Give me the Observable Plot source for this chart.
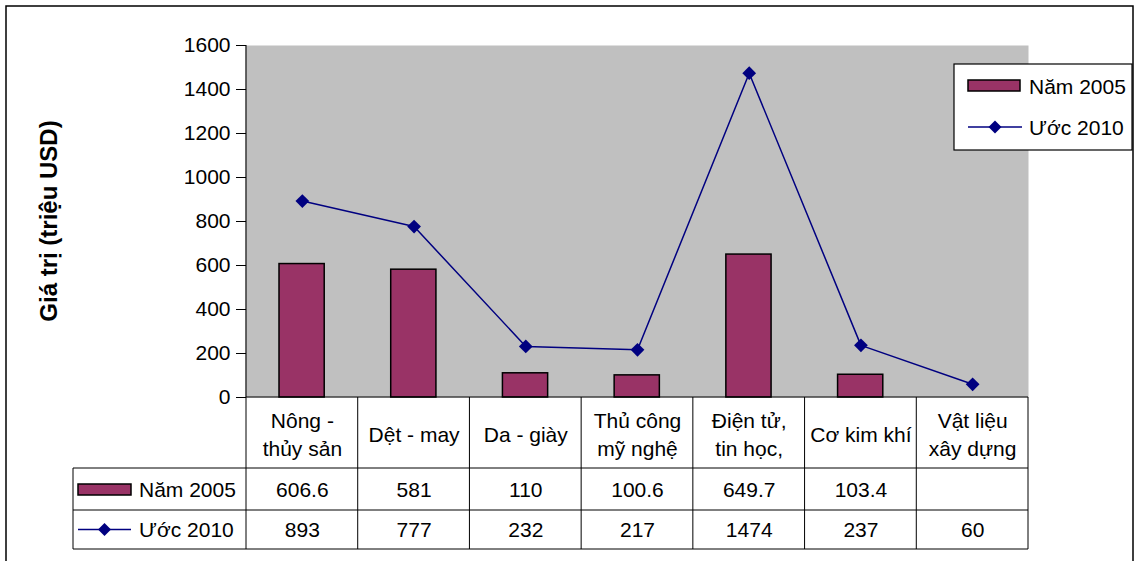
<!DOCTYPE html>
<html>
<head>
<meta charset="utf-8">
<script src="https://cdn.jsdelivr.net/npm/d3@7"></script>
<script src="https://cdn.jsdelivr.net/npm/@observablehq/plot@0.6"></script>
<style>
  body { margin: 0; background: #fff; }
  svg { display: block; }
</style>
</head>
<body>
<div id="chart"></div>
<script>
// Export groups (header lines separated by \n)
const categories = ["Nông -\nthủy sản", "Dệt - may", "Da - giày", "Thủ công\nmỹ nghệ", "Điện tử,\ntin học,", "Cơ kim khí", "Vật liệu\nxây dựng"];
// Export value, million USD
const values2005 = [606.6, 581, 110, 100.6, 649.7, 103.4, null];
const values2010 = [893, 777, 232, 217, 1474, 237, 60];
const seriesNames = ["Năm 2005", "Ước 2010"];
const yTicks = [0, 200, 400, 600, 800, 1000, 1200, 1400, 1600];
const yTitle = "Giá trị (triệu USD)";

const barColor = "#993366";
const lineColor = "#000080";
const font = "Arial, 'Liberation Sans', sans-serif";
const fs = 21;

const rows = categories.map((c, i) => ({cat: c, v2005: values2005[i], v2010: values2010[i]}));
const fmt = v => (v == null ? "" : String(v));

// Diamond marker path (rotated square, half-diagonal s)
const diamond = (cx, cy, s) => `M${cx},${cy - s}L${cx + s},${cy}L${cx},${cy + s}L${cx - s},${cy}Z`;

// Data table under the plot, axis lines, legend, title and outer frame
function tableAndLegend(index, scales, values, dimensions) {
  const {width, marginLeft, marginRight} = dimensions;
  const left = marginLeft, right = width - marginRight;
  const y0 = scales.y(0), yTop = scales.y(yTicks[yTicks.length - 1]);
  const step = (right - left) / categories.length;
  const headerBottom = y0 + 71, row2Bottom = y0 + 113, tableBottom = y0 + 152;
  const tableLeft = 73;
  const g = d3.create("svg:g").attr("font-family", font).attr("text-anchor", "start");

  const line = (x1, y1, x2, y2, w = 1) => g.append("line")
    .attr("x1", x1).attr("y1", y1).attr("x2", x2).attr("y2", y2)
    .attr("stroke", "#000").attr("stroke-width", w);

  // axes
  line(left, yTop, left, y0, 1.2);
  line(left, y0, right, y0, 1.2);
  // table grid
  [headerBottom, row2Bottom, tableBottom].forEach(y => line(tableLeft, y, right, y));
  for (let i = 0; i <= categories.length; ++i) line(left + i * step, y0, left + i * step, tableBottom);
  line(tableLeft, headerBottom, tableLeft, tableBottom);

  // series keys inside the table
  const r2 = (headerBottom + row2Bottom) / 2, r3 = (row2Bottom + tableBottom) / 2;
  g.append("rect").attr("x", tableLeft + 5).attr("y", r2 - 5).attr("width", 53).attr("height", 11)
    .attr("fill", barColor).attr("stroke", "#000").attr("stroke-width", 1.5);
  line(tableLeft + 5, r3, tableLeft + 58, r3, 1.5).attr("stroke", lineColor);
  g.append("path").attr("d", diamond(tableLeft + 31.5, r3, 6.5)).attr("fill", lineColor);
  [[seriesNames[0], r2], [seriesNames[1], r3]].forEach(([t, y]) =>
    g.append("text").attr("x", tableLeft + 66).attr("y", y).attr("dy", "0.36em")
      .attr("font-size", fs).attr("fill", "#000").text(t));

  // legend box
  const lx = 954, ly = 64, lw = 178, lh = 86;
  g.append("rect").attr("x", lx).attr("y", ly).attr("width", lw).attr("height", lh)
    .attr("fill", "#fff").attr("stroke", "#000").attr("stroke-width", 1.2);
  g.append("rect").attr("x", lx + 14).attr("y", ly + 16).attr("width", 52).attr("height", 11)
    .attr("fill", barColor).attr("stroke", "#000").attr("stroke-width", 1.5);
  line(lx + 14, ly + 63, lx + 68, ly + 63, 1.5).attr("stroke", lineColor);
  g.append("path").attr("d", diamond(lx + 41, ly + 63, 6.5)).attr("fill", lineColor);
  [[seriesNames[0], ly + 22], [seriesNames[1], ly + 63]].forEach(([t, y]) =>
    g.append("text").attr("x", lx + 75).attr("y", y).attr("dy", "0.36em")
      .attr("font-size", fs).attr("fill", "#000").text(t));

  // y-axis title
  g.append("text").attr("transform", `translate(48,${(yTop + y0) / 2}) rotate(-90)`)
    .attr("text-anchor", "middle").attr("dy", "0.36em")
    .attr("font-size", 24).attr("font-weight", "bold").attr("fill", "#000").text(yTitle);

  // outer chart frame
  g.append("path").attr("d", `M6,${dimensions.height + 2}V6H1133V${dimensions.height + 2}`)
    .attr("fill", "none").attr("stroke", "#000").attr("stroke-width", 1.5);
  return g.node();
}

const chart = Plot.plot({
  width: 1135,
  height: 561,
  marginTop: 45,
  marginLeft: 246,
  marginRight: 107,
  marginBottom: 164,
  style: {fontFamily: font, fontSize: fs + "px", color: "#000", background: "#fff"},
  x: {type: "band", domain: categories, padding: 0, round: false, axis: null},
  y: {domain: [0, 1600], label: null},
  marks: [
    Plot.frame({fill: "#C0C0C0", stroke: "none"}),
    Plot.barY(rows.filter(d => d.v2005 != null), {
      x: "cat", y: "v2005", fill: barColor, stroke: "#000", strokeWidth: 1.5,
      insetLeft: 33, insetRight: 33.5
    }),
    Plot.lineY(rows, {x: "cat", y: "v2010", stroke: lineColor, strokeWidth: 1.5}),
    Plot.dot(rows, {x: "cat", y: "v2010", symbol: "diamond2", r: 6.2, fill: lineColor, stroke: "none"}),
    Plot.axisY({ticks: yTicks, tickSize: 10, tickPadding: 6, fontSize: fs, label: null, tickFormat: d => String(d)}),
    // column headers of the data table
    Plot.text(categories, {x: d => d, y: () => 0, dy: 35.5, text: d => d, lineHeight: 1.35, fontSize: fs, fill: "#000"}),
    // table row: 2005 values
    Plot.text(rows, {x: "cat", y: () => 0, dy: 93, text: d => fmt(d.v2005), fontSize: fs, fill: "#000"}),
    // table row: 2010 estimates
    Plot.text(rows, {x: "cat", y: () => 0, dy: 133, text: d => fmt(d.v2010), fontSize: fs, fill: "#000"}),
    tableAndLegend
  ]
});
document.getElementById("chart").append(chart);
</script>
</body>
</html>
